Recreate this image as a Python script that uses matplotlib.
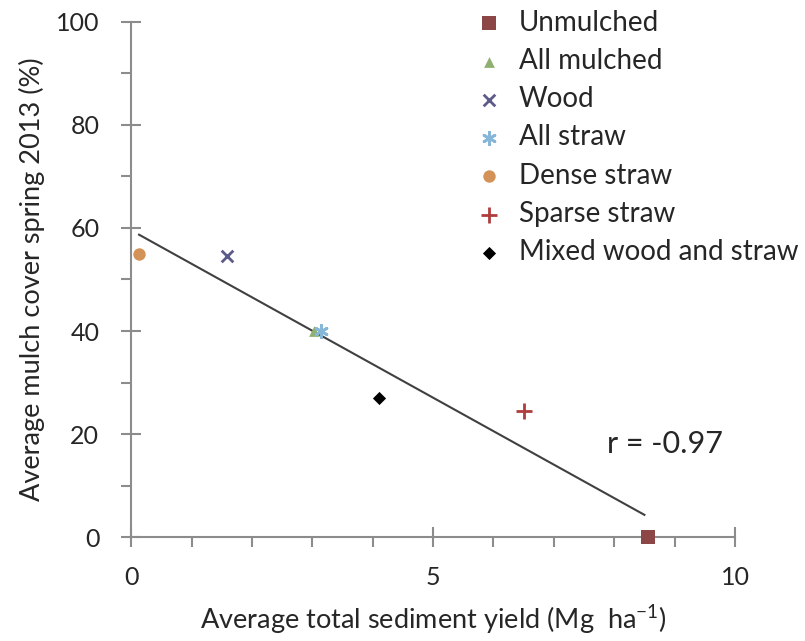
import numpy as np
import matplotlib.pyplot as plt

plt.rcParams['font.family'] = ['Lato', 'DejaVu Sans']

## treatment means
labels = ['Unmulched', 'All mulched', 'Wood', 'All straw', 'Dense straw',
          'Sparse straw', 'Mixed wood and straw']
sediment = [8.56, 3.03, 1.59, 3.15, 0.13, 6.5, 4.1]
cover = [0.0, 40.0, 54.5, 40.0, 55.0, 24.5, 27.0]

markers = ['s', '^', 'x', (6, 2, 0), 'o', '+', 'D']
colors = ['#8c4646', '#8fb070', '#5c5a88', '#86b6d8', '#d39358', '#b03c3c', '#000000']
sizes = [90, 60, 70, 80, 80, 120, 45]

fig = plt.figure(figsize=(8.05, 6.41), dpi=100)
ax = fig.add_axes([0.163, 0.162, 0.75, 0.804])

for lab, x, y, m, c, s in zip(labels, sediment, cover, markers, colors, sizes):
    lw = 2 if m in ('x', '+', (6, 2, 0)) else 0
    ax.scatter([x], [y], marker=m, color=c, s=s, linewidths=lw, label=lab,
               zorder=3, clip_on=False)

## best fit line across the range of the data
slope, intercept = np.polyfit(sediment, cover, 1)
xl = np.array([min(sediment), max(sediment) - 0.06])
ax.plot(xl, slope * xl + intercept, color='#404040', lw=1.5, zorder=2)
r = np.corrcoef(sediment, cover)[0, 1]
ax.text(7.88, 18, 'r = %.2f' % r, fontsize=22, ha='left', va='center', color='#262626')

ax.set_xlim(0, 10)
ax.set_ylim(0, 100)
ax.set_xticks([0, 5, 10])
ax.set_xticks(np.arange(1, 10), minor=True)
ax.set_yticks([0, 20, 40, 60, 80, 100])
ax.set_yticks(np.arange(10, 100, 20), minor=True)
for side in ['top', 'right']:
    ax.spines[side].set_visible(False)
for side in ['left', 'bottom']:
    ax.spines[side].set_color('#8c8c8c')
    ax.spines[side].set_linewidth(1.5)
ax.tick_params(which='major', direction='inout', length=14, width=1.5, color='#8c8c8c',
               labelsize=18, labelcolor='#262626', pad=16)
ax.tick_params(which='minor', direction='out', length=7, width=1.5, color='#8c8c8c')
ax.tick_params(axis='x', which='major', pad=14)

ax.set_xlabel(r'Average total sediment yield (Mg  ha$\mathregular{^{-1}}$)', fontsize=19.5,
              color='#262626', labelpad=10)
ax.set_ylabel('Average mulch cover spring 2013 (%)', fontsize=19.5, color='#262626', labelpad=8)

ax.legend(loc='upper left', bbox_to_anchor=(0.552, 1.045), frameon=False, fontsize=20,
          handletextpad=0.55, labelspacing=0.44, borderaxespad=0, handlelength=1.0,
          labelcolor='#262626')

fig.savefig('out.png', dpi=100)
